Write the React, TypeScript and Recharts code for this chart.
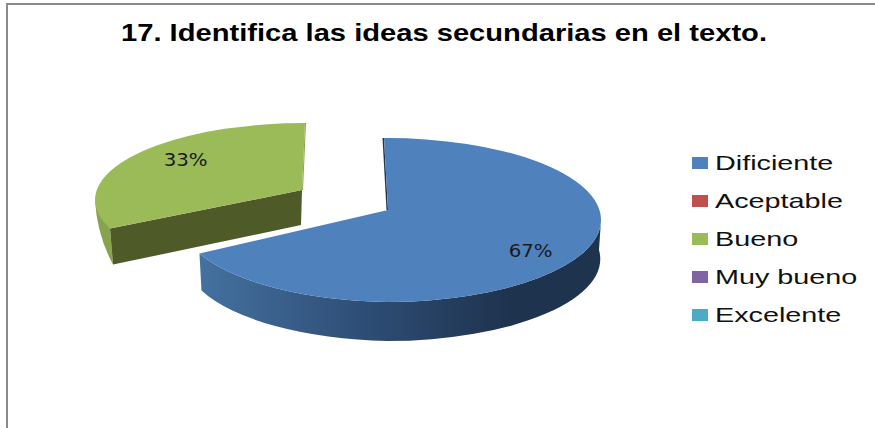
import { PieChart, Pie, Cell, Legend } from 'recharts';

const TITLE = '17. Identifica las ideas secundarias en el texto.';
const CATEGORIES = ['Dificiente', 'Aceptable', 'Bueno', 'Muy bueno', 'Excelente'];
const VALUES = [67, 0, 33, 0, 0];
const COLORS = ['#4f81bd', '#c0504d', '#9bbb59', '#8064a2', '#4bacc6'];

const tableData = CATEGORIES.map((name, i) => ({ name, value: VALUES[i] }));

const RY_RATIO = 82 / 214;
const DEPTH = 39;
const GREEN = { dx: -82, dy: -20, rx: 210, ry: 77, apexX: 302, apexY: 190, depth: 36 };

// recharts angle (ccw from +x) -> point on the squashed pie, clockwise from top
const onEllipse = (cx: number, cy: number, rx: number, ry: number, t: number) => {
  const r = (t * Math.PI) / 180;
  return { x: cx + rx * Math.sin(r), y: cy - ry * Math.cos(r) };
};

function Slice3D(props: any) {
  const { cx, cy, outerRadius, startAngle, endAngle, fill, index } = props;
  if (Math.abs(startAngle - endAngle) < 0.01) return null;
  const t0 = 90 - startAngle;
  const t1 = 90 - endAngle;

  if (t0 < 1) {
    // main blue slice
    const rx = outerRadius;
    const ry = outerRadius * RY_RATIO;
    const start = { x: 384, y: onEllipse(cx, cy, rx, ry, 0).y };
    const right = onEllipse(cx, cy, rx, ry, 90);
    const bottom = onEllipse(cx, cy, rx, ry, 180);
    const endBase = onEllipse(cx, cy, rx, ry, t1);
    const end = { x: endBase.x, y: endBase.y - 6 };
    const apex = { x: 388, y: 210 };
    const wall =
      `M${right.x},${right.y} A${rx},${ry} 0 0 1 ${bottom.x},${bottom.y} A${rx},${ry} 0 0 1 ${end.x},${end.y} ` +
      `L${end.x + 2},${end.y + 37} A${rx},${ry} 0 0 0 ${bottom.x},${bottom.y + DEPTH} ` +
      `A${rx},${ry} 0 0 0 ${right.x - 2},${right.y + 30} Z`;
    const top =
      `M${apex.x},${apex.y} L${start.x},${start.y} A${rx},${ry} 0 0 1 ${right.x},${right.y} ` +
      `A${rx},${ry} 0 0 1 ${bottom.x},${bottom.y} A${rx},${ry} 0 0 1 ${end.x},${end.y} Z`;
    return (
      <g>
        <defs>
          <linearGradient id="blueWall" gradientUnits="userSpaceOnUse" x1="200" y1="0" x2="510" y2="0">
            <stop offset="0" stopColor="#44719f" />
            <stop offset="0.5" stopColor="#2f4f78" />
            <stop offset="1" stopColor="#1e334e" />
          </linearGradient>
        </defs>
        <path d={wall} fill="url(#blueWall)" />
        <path d={`M${start.x - 1.5},${start.y} L${apex.x - 1.5},${apex.y} L${apex.x},${apex.y} L${start.x},${start.y} Z`} fill="#1f3550" />
        <path d={top} fill={fill} />
      </g>
    );
  }

  // exploded green slice
  const gx = cx + GREEN.dx;
  const gy = cy + GREEN.dy;
  const { rx, ry, apexX, apexY, depth } = GREEN;
  const end = onEllipse(gx, gy, rx, ry, t0 + 7);
  const left = onEllipse(gx, gy, rx, ry, 270);
  const top = onEllipse(gx, gy, rx, ry, t1);
  return (
    <g key={index}>
      <path
        d={`M${left.x},${left.y} Q${left.x + 2},${left.y + 35} ${end.x + 3},${end.y + depth} L${end.x},${end.y} Z`}
        fill="#87a34d"
      />
      <path d={`M${end.x},${end.y} L${apexX},${apexY} L${apexX - 1},${apexY + 35} L${end.x + 3},${end.y + depth} Z`} fill="#4e5a28" />
      <path d={`M${top.x},${top.y} L${top.x + 1},${top.y} L${apexX + 1},${apexY} L${apexX},${apexY} Z`} fill="#87a34d" />
      <path
        d={`M${apexX},${apexY} L${end.x},${end.y} A${rx},${ry} 0 0 1 ${left.x},${left.y} A${rx},${ry} 0 0 1 ${top.x},${top.y} Z`}
        fill={fill}
      />
    </g>
  );
}

function SliceLabel(props: any) {
  const { cx, cy, outerRadius, midAngle, percent } = props;
  if (!percent) return null;
  const t = 90 - midAngle;
  const isMain = percent > 0.5;
  const p = isMain
    ? onEllipse(cx, cy, outerRadius * 0.78, outerRadius * RY_RATIO * 0.72, t)
    : onEllipse(cx + GREEN.dx, cy + GREEN.dy, GREEN.rx * 0.66, GREEN.ry * 1.04, t);
  return (
    <text
      x={p.x}
      y={p.y + 7}
      textAnchor="middle"
      fontFamily="'DejaVu Sans', sans-serif"
      fontSize={18}
      fill="#1a1a1a"
      textLength={44}
      lengthAdjust="spacingAndGlyphs"
    >
      {`${Math.round(percent * 100)}%`}
    </text>
  );
}

function LegendList({ payload }: any) {
  return (
    <div>
      {(payload || []).map((item: any) => (
        <div key={item.value} style={{ height: 38, display: 'flex', alignItems: 'center', position: 'relative' }}>
          <div style={{ width: 16, height: 12, background: item.color, marginRight: 7 }} />
          <span
            style={{
              fontFamily: "'Liberation Sans', Arial, sans-serif",
              fontSize: 21,
              color: '#111',
              transform: 'scaleX(1.37)',
              transformOrigin: 'left center',
              whiteSpace: 'nowrap',
            }}
          >
            {item.value}
          </span>
        </div>
      ))}
    </div>
  );
}

export default function App() {
  return (
    <div style={{ position: 'absolute', left: 0, top: 0, width: 875, height: 428, overflow: 'hidden', background: 'white' }}>
      <div style={{ position: 'absolute', left: 6, top: 3, width: 900, height: 440, borderLeft: '2px solid #8a8a8a', borderTop: '2px solid #8a8a8a' }} />
      <div style={{ position: 'absolute', left: 0, top: 0 }}>
        <PieChart width={875} height={428} margin={{ top: 0, right: 0, bottom: 0, left: 0 }}>
          <text
            x={444}
            y={41}
            textAnchor="middle"
            fontFamily="'Liberation Sans', Arial, sans-serif"
            fontWeight="bold"
            fontSize={24}
            fill="#000"
            textLength={646}
            lengthAdjust="spacingAndGlyphs"
          >
            {TITLE}
          </text>
          <Pie
            data={tableData}
            dataKey="value"
            nameKey="name"
            cx={387}
            cy={220}
            outerRadius={214}
            startAngle={90}
            endAngle={-270}
            stroke="none"
            shape={Slice3D}
            label={SliceLabel}
            labelLine={false}
            isAnimationActive={false}
          >
            {tableData.map((d, i) => <Cell key={d.name} fill={COLORS[i]} />)}
          </Pie>
          <Legend
            layout="vertical"
            align="right"
            verticalAlign="middle"
            itemSorter={null}
            content={LegendList}
            wrapperStyle={{ left: 692, top: 144, width: 183, right: 'auto' }}
          />
        </PieChart>
      </div>
    </div>
  );
}
